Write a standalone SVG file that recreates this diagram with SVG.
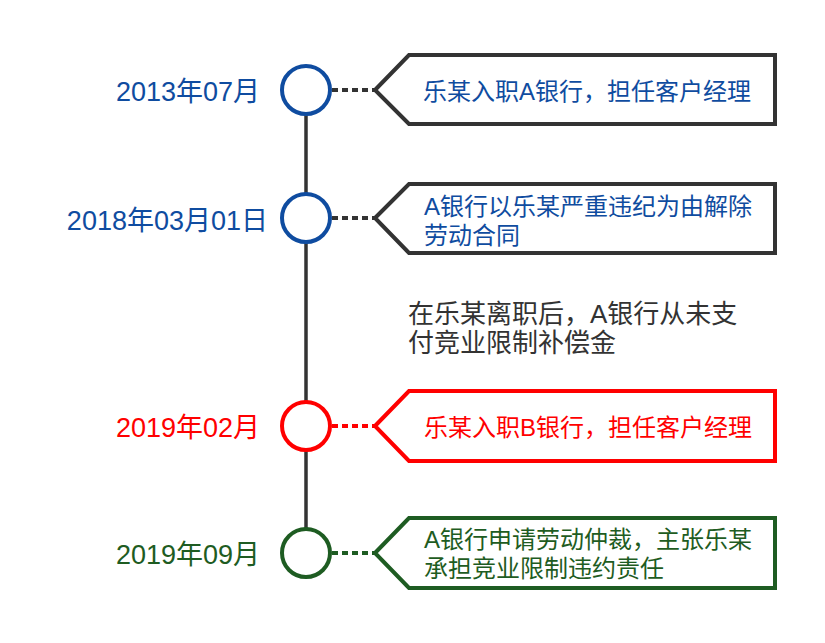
<svg xmlns="http://www.w3.org/2000/svg" width="825" height="643" viewBox="0 0 825 643">
<style>
text{font-family:"Liberation Sans","Noto Sans CJK SC",sans-serif;font-size:24px}
.date{text-anchor:end;font-size:27px}
.note{font-size:26px}
.blue{fill:#0F4CA0}
.red{fill:#FF0000}
.green{fill:#1E5C22}
.dark{fill:#333333}
.circ{fill:#ffffff;stroke-width:4}
.box{fill:#ffffff;stroke-width:4}
.dot{stroke-width:4;stroke-dasharray:6 4;fill:none}
</style>
<rect width="825" height="643" fill="#ffffff"/>
<g id="connectors">
<line x1="306" y1="115" x2="306" y2="528" stroke="#333333" stroke-width="3.5"/>
<line class="dot" x1="332" y1="90" x2="375" y2="90" stroke="#333333"/>
<line class="dot" x1="332" y1="218" x2="375" y2="218" stroke="#333333"/>
<line class="dot" x1="332" y1="426" x2="375" y2="426" stroke="#FF0000"/>
<line class="dot" x1="332" y1="553" x2="375" y2="553" stroke="#1E5C22"/>
</g>
<g id="node1">
<circle class="circ" cx="306" cy="90" r="24" stroke="#0F4CA0"/>
<text class="date blue" x="260" y="101">2013年07月</text>
<polygon class="box" points="375,90 409,55 775,55 775,124 409,124" stroke="#333333"/>
<text class="blue" x="423" y="100">乐某入职A银行，担任客户经理</text>
</g>
<g id="node2">
<circle class="circ" cx="306" cy="218" r="24" stroke="#0F4CA0"/>
<text class="date blue" x="268" y="230">2018年03月01日</text>
<polygon class="box" points="375,218 409,184 775,184 775,253 409,253" stroke="#333333"/>
<text class="blue" x="424" y="215">A银行以乐某严重违纪为由解除<tspan x="424" dy="29">劳动合同</tspan></text>
</g>
<g id="note">
<text class="dark note" x="408" y="323">在乐某离职后，A银行从未支<tspan x="408" dy="29">付竞业限制补偿金</tspan></text>
</g>
<g id="node3">
<circle class="circ" cx="306" cy="426" r="24" stroke="#FF0000"/>
<text class="date red" x="260" y="437">2019年02月</text>
<polygon class="box" points="375,426 409,391 775,391 775,461 409,461" stroke="#FF0000"/>
<text class="red" x="424" y="436">乐某入职B银行，担任客户经理</text>
</g>
<g id="node4">
<circle class="circ" cx="306" cy="553" r="24" stroke="#1E5C22"/>
<text class="date green" x="260" y="564">2019年09月</text>
<polygon class="box" points="375,553 409,518 775,518 775,588 409,588" stroke="#1E5C22"/>
<text class="green" x="424" y="548">A银行申请劳动仲裁，主张乐某<tspan x="424" dy="29">承担竞业限制违约责任</tspan></text>
</g>
</svg>
